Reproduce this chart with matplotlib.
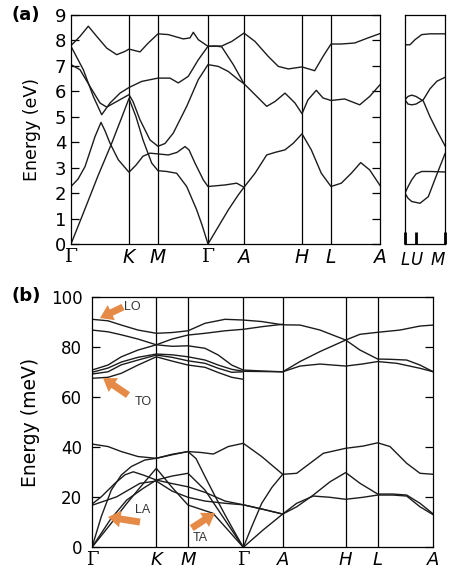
import matplotlib.pyplot as plt

# ---------------- electronic band structure, panel (a) ----------------
elec_ticks = [0, 58, 87, 137, 173, 231, 260, 309]
elec_labels = ['Γ', 'K', 'M', 'Γ', 'A', 'H', 'L', 'A']

# each band: (path coordinate, energy in eV)
eband1 = [(0, 0.0), (14, 1.38), (27, 2.68), (40.7, 3.96), (50, 4.9), (58, 5.72),
          (65, 5.0), (72, 4.09), (80.7, 3.18), (87, 2.88), (95.7, 2.85), (105.7, 2.78),
          (115.7, 2.26), (125.7, 1.34), (131, 0.75), (137, 0.0), (147.3, 0.68),
          (157.3, 1.34), (167.3, 1.93), (173, 2.23)]
eband2 = [(0, 2.26), (7, 2.55), (14, 3.04), (24, 4.22), (30, 4.78), (34, 4.45), (39, 3.96),
          (47.3, 3.31), (58, 2.82), (65, 3.1), (72, 3.45), (79, 3.57), (87, 3.54),
          (97.3, 3.50), (106, 3.6), (114, 3.83), (118, 3.7), (124, 3.18), (132.3, 2.52),
          (137, 2.26), (154, 2.32), (165.7, 2.39), (173, 2.23), (184, 2.78), (195.7, 3.50),
          (204, 3.60), (214, 3.70), (222.3, 3.96), (231, 4.33), (240.3, 3.70), (250.3, 2.78),
          (260, 2.26), (270.3, 2.39), (280.3, 2.78), (289.7, 3.20), (298.7, 2.91), (309, 2.30)]
eband3 = [(0, 7.05), (9, 6.85), (19, 6.19), (29, 5.54), (35.7, 5.38), (45.7, 5.60), (58, 5.87),
          (62, 5.6), (69, 4.88), (79, 4.09), (87, 3.84), (94, 3.95), (102.3, 4.36),
          (115.7, 5.41), (127.3, 6.46), (137, 7.05), (147.3, 6.98), (157.3, 6.78),
          (167.3, 6.46), (173, 6.30), (184, 5.87), (195.7, 5.41), (204, 5.60), (214, 5.93),
          (224, 5.54), (231, 5.12), (237, 5.67), (245.3, 6.04), (252, 5.74), (260, 5.64),
          (273.7, 5.70), (288.7, 5.47), (298.7, 5.80), (309, 6.26)]
eband4 = [(0, 7.77), (12.3, 6.85), (22.3, 5.80), (30.7, 5.08), (39, 5.54), (49, 5.93),
          (58, 6.15), (70.7, 6.39), (87, 6.52), (99, 6.52), (107.3, 6.33), (117.3, 6.59),
          (127.3, 7.24), (137, 7.77), (144, 7.78), (150.7, 7.75), (162.3, 7.05), (173, 6.30)]
eband5 = [(0, 7.80), (9, 8.16), (17.3, 8.56), (25.7, 8.16), (35.7, 7.70), (45.7, 7.44),
          (54, 7.57), (58, 7.66), (64, 7.60), (69, 7.55), (77.3, 7.90), (87, 8.26),
          (97.3, 8.23), (112.3, 8.06), (119, 8.1), (122.3, 8.32), (127.3, 8.03), (137, 7.77),
          (150.7, 7.78), (160.7, 7.96), (173, 8.29), (184, 7.96), (197.3, 7.37), (207.3, 6.98),
          (217.3, 6.88), (231, 6.96), (243.7, 6.81), (252, 7.37), (260, 7.86), (270.3, 7.86),
          (283.7, 7.90), (297, 8.10), (309, 8.27)]
elec_bands = [eband1, eband2, eband3, eband4, eband5]

# L-U-M path
side_ticks = [0, 10.7, 40]
side_labels = ['L', 'U', 'M']
sband1 = [(0, 7.83), (5, 7.83), (10, 8.03), (16.7, 8.23), (25, 8.26), (40, 8.26)]
sband2 = [(0, 5.67), (3, 5.8), (6.7, 5.85), (11, 5.8), (18.3, 5.62), (25, 5.0),
          (32, 4.45), (40, 3.86)]
sband3 = [(0, 5.67), (3, 5.5), (6.7, 5.47), (11, 5.5), (18.3, 5.67), (25, 6.1),
          (32, 6.4), (40, 6.55)]
sband4 = [(0, 2.0), (3, 2.25), (6.7, 2.52), (11, 2.75), (16.7, 2.85), (25, 2.85), (40, 2.83)]
sband5 = [(0, 2.0), (3, 1.8), (6.7, 1.67), (15, 1.6), (23.3, 1.86), (31.7, 2.72), (40, 3.55)]
side_bands = [sband1, sband2, sband3, sband4, sband5]

# ---------------- phonon dispersion, panel (b) ----------------
phon_ticks = [0, 64.3, 96, 151.3, 190.7, 253.7, 285.7, 341.3]
phon_labels = ['Γ', 'K', 'M', 'Γ', 'A', 'H', 'L', 'A']

# (path coordinate, energy in meV)
po1 = [(0, 91.2), (16, 90.6), (29.3, 88.9), (46, 86.9), (64.3, 85.6), (80, 85.9), (96, 86.6),
       (113, 89.6), (133, 91.2), (151.3, 90.9), (169.7, 90.3), (190.7, 89.0), (208, 88.9),
       (228, 86.9), (253.7, 82.9), (268, 78.9), (285.7, 75.3), (298, 75.2), (314.7, 74.9),
       (328, 72.9), (341.3, 70.2)]
po2 = [(0, 86.9), (16, 86.2), (29.3, 85.0), (46, 83.3), (64.3, 81.0), (80, 80.4), (96, 80.6),
       (113, 79.6), (126.3, 76.9), (139.7, 72.9), (151.3, 70.9), (171, 70.5), (190.7, 70.2),
       (208, 74.3), (228, 78.3), (253.7, 82.9), (268, 85.2), (285.7, 86.0), (308, 86.9),
       (328, 88.5), (341.3, 88.9)]
po3 = [(0, 70.9), (16, 72.9), (29.3, 76.2), (46, 78.9), (64.3, 81.0), (80, 83.3), (96, 84.9),
       (113, 85.6), (133, 86.6), (151.3, 87.2), (171, 88.3), (190.7, 89.2)]
po4 = [(0, 70.0), (16, 71.7), (29.3, 74.1), (46, 76.0), (64.3, 77.3), (80, 77.0), (96, 76.2),
       (113, 74.9), (126.3, 72.9), (139.7, 71.2), (151.3, 70.4), (171, 70.3), (190.7, 70.2),
       (208, 72.5), (228, 73.3), (253.7, 72.5), (270, 73.3), (285.7, 74.3), (304.7, 73.6),
       (328, 71.6), (341.3, 70.2)]
po5 = [(0, 69.3), (16, 70.2), (29.3, 73.0), (46, 74.9), (64.3, 76.9), (80, 76.0), (96, 74.6),
       (113, 73.6), (126.3, 71.6), (139.7, 70.0), (151.3, 70.2)]
po6 = [(0, 67.6), (16, 68.0), (29.3, 69.6), (46, 72.9), (64.3, 76.2), (80, 74.5), (96, 72.9),
       (113, 72.0), (126.3, 69.9), (139.7, 68.0), (151.3, 67.2)]
pl1 = [(0, 41.3), (16, 40.3), (29.3, 38.3), (46, 36.3), (64.3, 35.6), (80, 37.2), (96, 38.3),
       (109.7, 37.9), (121.3, 37.3), (136.3, 40.3), (151.3, 41.6), (169.7, 36.3), (190.7, 29.2),
       (204.7, 29.6), (218, 33.6), (231.3, 37.6), (253.7, 39.6), (271.3, 40.5), (285.7, 41.8),
       (298, 40.3), (314.7, 33.6), (328, 29.6), (341.3, 29.2)]
pl2 = [(0, 0.0), (9.3, 12.3), (19.3, 22.9), (29.3, 28.9), (39.3, 32.3), (52.7, 34.9),
       (64.3, 35.6), (80, 37.0), (96, 38.3), (104, 35.5), (113, 28.3), (123, 20.5), (133, 13.0),
       (142, 6.5), (151.3, 0.0), (160, 8.5), (169.7, 17.6), (180, 24.0), (190.7, 29.2)]
pl3 = [(0, 17.3), (9.3, 20.2), (23, 25.6), (33, 29.0), (41.3, 30.2), (52, 28.8), (64.3, 26.9),
       (80, 25.5), (96, 24.2), (113, 22.0), (133, 18.5), (151.3, 17.0), (171, 15.2),
       (190.7, 13.3), (204.7, 16.2), (221.3, 20.9), (238, 26.2), (253.7, 29.9), (268, 25.6),
       (285.7, 21.3), (301.3, 21.3), (314.7, 20.9), (328, 17.6), (341.3, 13.3)]
pl4 = [(0, 16.8), (24.7, 20.2), (48, 25.6), (64.3, 26.5), (80, 22.5), (96, 20.0), (113, 18.5),
       (133, 17.6), (151.3, 17.0), (171, 15.2), (190.7, 13.3), (204.7, 17.6), (221.3, 20.5),
       (238, 20.0), (253.7, 19.2), (271, 20.0), (285.7, 20.9), (301, 20.9), (314.7, 20.5),
       (328, 16.2), (341.3, 13.0)]
pl5 = [(0, 0.0), (18, 10.9), (34.7, 18.9), (51.3, 23.6), (64.3, 26.9), (80, 28.5), (96, 29.6),
       (113, 22.9), (133, 10.9), (151.3, 0.0), (171, 6.9), (190.7, 13.3)]
pl6 = [(0, 0.0), (18, 9.0), (34.7, 17.5), (51.3, 25.5), (64.3, 31.6), (80, 24.0), (96, 16.9),
       (121, 13.6), (136, 6.9), (151.3, 0.0)]
phon_bands = [po1, po2, po3, po4, po5, po6, pl1, pl2, pl3, pl4, pl5, pl6]

mode_names = ['LO', 'TO', 'LA', 'TA']

LINE = '#1c1c1c'
ORANGE = '#e58a47'


def draw_bands(ax, bands):
    for b in bands:
        k, e = zip(*b)
        ax.plot(k, e, color=LINE, lw=1.0, solid_joinstyle='round')


def style_xlabels(ax, labels):
    ax.set_xticklabels(labels)
    for t, s in zip(ax.get_xticklabels(), labels):
        if s == 'Γ':
            t.set_fontfamily('DejaVu Serif')
        else:
            t.set_fontstyle('italic')


def path_axes(ax, ticks, labels, ylim):
    for x in ticks[1:-1]:
        ax.axvline(x, color='k', lw=0.9)
    ax.set_xlim(ticks[0], ticks[-1])
    ax.set_ylim(*ylim)
    ax.set_xticks(ticks)
    style_xlabels(ax, labels)
    ax.tick_params(axis='x', length=0, pad=3, labelsize=13.5)
    ax.tick_params(axis='y', direction='in', left=True, right=True, length=6,
                   width=0.9, labelsize=13)
    for sp in ax.spines.values():
        sp.set_linewidth(0.9)


fig = plt.figure(figsize=(4.5, 5.77), dpi=100)

# panel (a)
ax1 = fig.add_axes([71 / 450, 1 - 244 / 577, 309 / 450, 229 / 577])
path_axes(ax1, elec_ticks, elec_labels, (0, 9))
draw_bands(ax1, elec_bands)
ax1.set_yticks(range(0, 10))
ax1.set_ylabel('Energy (eV)', fontsize=12.5, labelpad=10)

ax2 = fig.add_axes([405 / 450, 1 - 244 / 577, 40 / 450, 229 / 577])
draw_bands(ax2, side_bands)
ax2.set_xlim(side_ticks[0], side_ticks[-1])
ax2.set_ylim(0, 9)
ax2.set_yticks([])
ax2.set_xticks(side_ticks)
style_xlabels(ax2, side_labels)
ax2.get_xticklabels()[-1].set_horizontalalignment('right')
ax2.tick_params(axis='x', direction='in', length=9, width=2, pad=5, labelsize=12)
for sp in ax2.spines.values():
    sp.set_linewidth(0.9)

fig.text(26 / 450, 1 - 15 / 577, '(a)', fontsize=13, fontweight='bold',
         ha='center', va='center')

# panel (b)
ax3 = fig.add_axes([92 / 450, 1 - 547.3 / 577, 341.3 / 450, 250 / 577])
path_axes(ax3, phon_ticks, phon_labels, (0, 100))
draw_bands(ax3, phon_bands)
ax3.set_yticks(range(0, 101, 20))
ax3.tick_params(axis='y', labelsize=12, pad=7)
ax3.tick_params(axis='x', labelsize=13)
ax3.set_ylabel('Energy (meV)', fontsize=13.5, labelpad=7.5)

fig.text(26 / 450, 1 - 296 / 577, '(b)', fontsize=13, fontweight='bold',
         ha='center', va='center')

# mode arrows: tip, tail, text position
arrow_geom = [((8, 91.7), (31, 96.1), (40.7, 96.2)),
              ((11, 67.7), (36, 60.9), (51.3, 58.2)),
              ((16, 12.1), (48, 10.1), (50.7, 14.9)),
              ((123, 13.7), (99.7, 7.7), (108, 3.6))]
for name, (tip, tail, txt) in zip(mode_names, arrow_geom):
    ax3.annotate('', xy=tip, xytext=tail,
                 arrowprops=dict(arrowstyle='simple,head_length=0.9,head_width=1.2,tail_width=0.5',
                                 color=ORANGE, lw=0, shrinkA=0, shrinkB=0))
    ax3.text(txt[0], txt[1], name, fontsize=9, family='Liberation Sans',
             color='#333333', ha='center', va='center')

fig.savefig('out.png', dpi=100)
